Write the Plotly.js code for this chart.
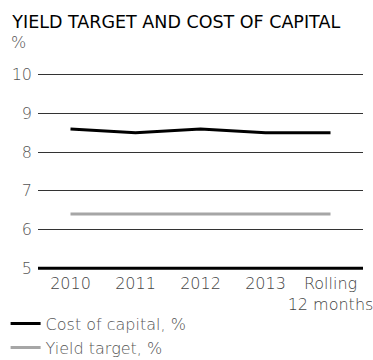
<!DOCTYPE html>
<html><head><meta charset="utf-8">
<script src="https://cdn.plot.ly/plotly-3.0.1.min.js"></script>
<style>body{margin:0;padding:0;background:#fff}#chart{width:373px;height:360px}</style>
</head><body><div id="chart"></div>
<script>
const categories = ['2010', '2011', '2012', '2013', 'Rolling<br>12 months'];
const costOfCapital = [8.6, 8.5, 8.6, 8.5, 8.5];
const yieldTarget = [6.4, 6.4, 6.4, 6.4, 6.4];
const yTicks = [5, 6, 7, 8, 9, 10];

const fontFam = 'DejaVu Sans, sans-serif';
const traces = [
  {x: categories, y: costOfCapital, type: 'scatter', mode: 'lines', name: 'Cost of capital, %',
   line: {color: '#000000', width: 3}},
  {x: categories, y: yieldTarget, type: 'scatter', mode: 'lines', name: 'Yield target, %',
   line: {color: '#a6a6a6', width: 3}}
];
const layout = {
  width: 373, height: 360,
  margin: {l: 38, r: 10, t: 71, b: 88, autoexpand: false},
  paper_bgcolor: '#fff', plot_bgcolor: '#fff',
  font: {family: fontFam, color: '#444', size: 16},
  title: {text: 'YIELD TARGET AND COST OF CAPITAL', xref: 'container', yref: 'container',
    x: 0.033, xanchor: 'left', y: 0.939, yanchor: 'middle',
    font: {family: fontFam, size: 17.5, color: '#000', weight: 500}},
  annotations: [{text: '%', xref: 'paper', yref: 'paper', x: -0.09, y: 1.142, xanchor: 'left', yanchor: 'middle',
    showarrow: false, font: {family: fontFam, size: 16, color: '#555', weight: 300}}],
  shapes: [{type: 'line', xref: 'paper', yref: 'y', x0: 0, x1: 1, y0: 5, y1: 5,
    line: {color: '#000', width: 3}}],
  xaxis: {type: 'category', range: [-0.5, 4.5], showgrid: false, showline: false,
    ticks: '', tickangle: 0, tickfont: {family: fontFam, size: 16, color: '#444', weight: 300}, fixedrange: true},
  yaxis: {range: [4.9, 10.1], tickvals: yTicks, showgrid: true, gridcolor: '#333', gridwidth: 1, zeroline: false,
    ticks: '', ticklabelstandoff: 5, tickfont: {family: fontFam, size: 16, color: '#555', weight: 300}, fixedrange: true},
  showlegend: true,
  legend: {xref: 'container', yref: 'container', x: 0.015, y: 0.148, xanchor: 'left', yanchor: 'top',
    orientation: 'v', font: {family: fontFam, size: 16, color: '#555', weight: 300}, tracegroupgap: 0, itemwidth: 30,
    bgcolor: 'rgba(0,0,0,0)'}
};
Plotly.newPlot('chart', traces, layout, {displayModeBar: false, staticPlot: true});
</script></body></html>
